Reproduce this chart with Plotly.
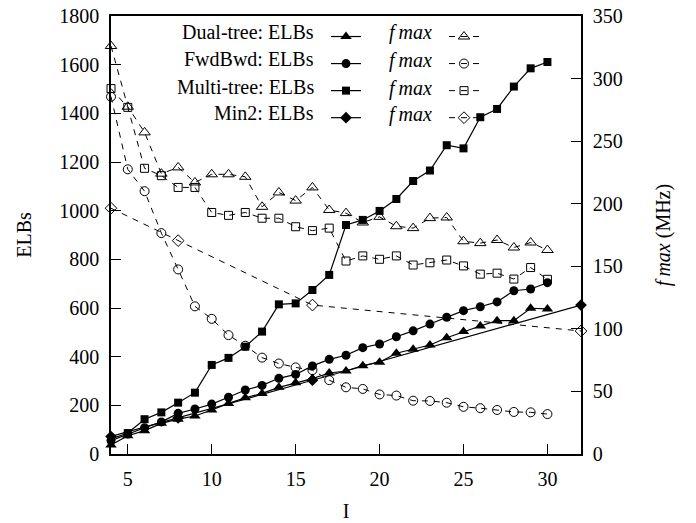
import plotly.graph_objects as go

# ---------------- data ----------------
I_vals = list(range(4, 31))
I_min2 = [4, 8, 16, 32]

dual_elbs = [37, 75, 96, 126, 143, 156, 181, 208, 231, 249, 274, 293, 310, 333,
             341, 363, 377, 414, 430, 448, 478, 503, 526, 548, 548, 599, 596]
fwd_elbs = [55, 82, 108, 132, 167, 185, 205, 233, 263, 282, 311, 327, 362, 389,
            406, 437, 452, 482, 506, 534, 562, 589, 605, 625, 671, 678, 704]
multi_elbs = [62, 86, 143, 171, 211, 252, 366, 395, 441, 503, 615, 619, 674, 736,
              941, 962, 999, 1048, 1122, 1165, 1269, 1256, 1384, 1418, 1510, 1585, 1611]
min2_elbs = [72, 148, 303, 612]

dual_fmax = [326, 277.5, 257, 224, 229, 217, 223.5, 223.5, 221.5, 197.5, 209, 202.5,
             213, 195, 192.5, 185, 189.5, 182, 180.5, 188.5, 189, 170, 168.5, 171,
             165, 169, 163]
fwd_fmax = [285.5, 227.5, 210, 176.5, 147.5, 118, 108, 95, 86.5, 77, 72.3, 69.2,
            67, 59, 53.3, 52, 47.6, 46.7, 42.6, 42.4, 41, 37.7, 36.6, 35.2, 33.6,
            33.3, 31.9]
multi_fmax = [292, 277, 228.3, 222.4, 213, 213, 193, 190.7, 193, 188.4, 188.4, 181.6,
              178.5, 180.5, 154.2, 158.3, 155.6, 158.3, 151, 152.8, 155, 150.3, 143.7,
              144.5, 139.8, 149, 139.6]
min2_fmax = [196.4, 170.5, 119, 98.3]

series_names = ["Dual-tree", "FwdBwd", "Multi-tree", "Min2"]
x_ticks = [5, 10, 15, 20, 25, 30]
y_ticks = list(range(0, 1801, 200))
y2_ticks = list(range(0, 351, 50))

FONT = "Liberation Serif, Times New Roman, serif"
FS = 20

fig = go.Figure()

elb_specs = [
    (I_vals, dual_elbs, "triangle-up", 10),
    (I_vals, fwd_elbs, "circle", 9),
    (I_vals, multi_elbs, "square", 8),
    (I_min2, min2_elbs, "diamond", 9),
]
fmax_specs = [
    (I_vals, dual_fmax, "triangle-up-open", 10),
    (I_vals, fwd_fmax, "circle-open", 9),
    (I_vals, multi_fmax, "square-open", 8),
    (I_min2, min2_fmax, "diamond-open", 9),
]

for (xs, ys, sym, sz), nm in zip(elb_specs, series_names):
    fig.add_trace(go.Scatter(
        x=xs, y=ys, mode="lines+markers", name=" ", cliponaxis=False,
        line=dict(color="black", width=1.2),
        marker=dict(symbol=sym, size=sz, color="black",
                    line=dict(color="black", width=0)),
        legend="legend", yaxis="y"))

for (xs, ys, sym, sz), nm in zip(fmax_specs, series_names):
    fig.add_trace(go.Scatter(
        x=xs, y=ys, mode="lines+markers", name=" ", cliponaxis=False,
        line=dict(color="black", width=1, dash="6px,6px"),
        marker=dict(symbol=sym, size=sz, color="black",
                    line=dict(color="black", width=1)),
        legend="legend2", yaxis="y2"))

L, R, T, B = 111, 115, 16, 69
W, H = 696, 523
pw = W - L - R
ph = H - T - B


def px_x(p):
    return (p - L) / pw


def px_y(p):
    return (H - B - p) / ph


row_y = [32, 59, 87, 113]
annotations = []
for nm, ry in zip(series_names, row_y):
    annotations.append(dict(
        text=nm + ": ELBs", xref="paper", yref="paper",
        x=px_x(316), y=px_y(ry), xanchor="right", yanchor="middle",
        showarrow=False, font=dict(family=FONT, size=FS, color="black")))
    annotations.append(dict(
        text="<i>f\u2009max</i>", xref="paper", yref="paper",
        x=px_x(387), y=px_y(ry + 1), xanchor="left", yanchor="middle",
        showarrow=False, font=dict(family=FONT, size=FS, color="black")))

axis_common = dict(
    showgrid=False, zeroline=False, showline=True, linecolor="black",
    linewidth=1.5, ticks="inside", ticklen=10, tickwidth=1, tickcolor="black",
    tickfont=dict(family=FONT, size=FS, color="black"),
)

fig.update_layout(
    width=W, height=H,
    margin=dict(l=L, r=R, t=T, b=B, autoexpand=False),
    paper_bgcolor="white", plot_bgcolor="white",
    font=dict(family=FONT, size=FS, color="black"),
    xaxis=dict(range=[4, 32], tickvals=x_ticks, mirror=True,
               title=dict(text="I", standoff=15,
                          font=dict(family=FONT, size=FS)),
               ticklabelstandoff=6, **axis_common),
    yaxis=dict(range=[0, 1800], tickvals=y_ticks,
               title=dict(text="ELBs", standoff=22,
                          font=dict(family=FONT, size=FS)),
               ticklabelstandoff=6, **axis_common),
    yaxis2=dict(range=[0, 350], tickvals=y2_ticks, overlaying="y", side="right",
                title=dict(text="<i>f\u2009max</i> (MHz)", standoff=34,
                           font=dict(family=FONT, size=FS)),
                ticklabelstandoff=6, **axis_common),
    legend=dict(x=px_x(326), y=px_y(18), xanchor="left", yanchor="top",
                bgcolor="rgba(0,0,0,0)", borderwidth=0,
                font=dict(family=FONT, size=18.5), tracegroupgap=0),
    legend2=dict(x=px_x(444), y=px_y(18), xanchor="left", yanchor="top",
                 bgcolor="rgba(0,0,0,0)", borderwidth=0,
                 font=dict(family=FONT, size=18.5), tracegroupgap=0),
    annotations=annotations,
    showlegend=True,
)

fig.write_html("out.html",
               config={"displayModeBar": False},
               post_script="document.body.style.margin='0px';"
                           "document.body.style.padding='0px';")
